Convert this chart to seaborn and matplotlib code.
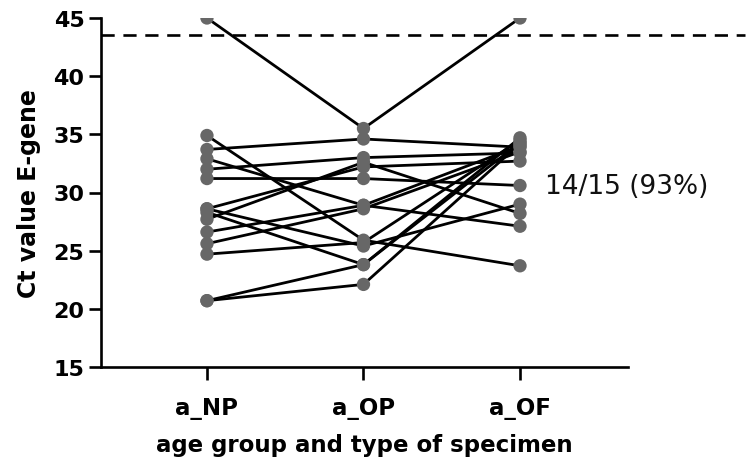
import matplotlib
matplotlib.use("Agg")
import matplotlib.pyplot as plt
import seaborn as sns
import pandas as pd

specimens = ["a_NP", "a_OP", "a_OF"]
ct_np = [45.0, 34.9, 33.7, 32.0, 32.9, 31.2, 28.6, 28.3, 28.6, 27.7, 26.6, 25.6, 24.7, 20.7, 20.7]
ct_op = [35.5, 25.9, 34.6, 33.0, 28.9, 31.2, 32.2, 23.8, 25.4, 32.6, 28.9, 28.6, 25.7, 23.8, 22.1]
ct_of = [45.0, 23.7, 33.9, 33.4, 27.1, 30.6, 32.7, 34.3, 29.0, 28.2, 34.0, 33.5, 34.5, 34.7, 34.2]
cutoff = 43.5
annotation = "14/15 (93%)"
y_ticks = [15, 20, 25, 30, 35, 40, 45]

rows = []
for i, vals in enumerate(zip(ct_np, ct_op, ct_of)):
    for j, v in enumerate(vals):
        rows.append({"subject": i, "specimen": specimens[j], "pos": j, "ct": v})
df = pd.DataFrame(rows)

sns.set_style("ticks")
plt.rcParams["font.family"] = ["DejaVu Sans"]
plt.rcParams["text.color"] = "black"
plt.rcParams["axes.labelcolor"] = "black"
plt.rcParams["xtick.color"] = "black"
plt.rcParams["ytick.color"] = "black"

fig = plt.figure(figsize=(7.46, 4.64), dpi=100)
ax = fig.add_axes([101 / 746, 1 - 368 / 464, (628 - 101) / 746, (368 - 19) / 464])

sns.lineplot(data=df, x="pos", y="ct", units="subject", estimator=None, sort=False,
             color="black", linewidth=2.0, ax=ax, legend=False, zorder=2)
sns.scatterplot(data=df, x="pos", y="ct", color="#676767", s=92, edgecolor="none",
                ax=ax, legend=False, zorder=3)
for artist in list(ax.collections) + list(ax.lines):
    artist.set_clip_on(True)
    artist.set_clip_path(ax.patch)

ax.set_xlim(-0.677, 2.69)
ax.set_ylim(15, 45)
x0, x1 = -0.677, 3.44
ax.plot([x0, x1], [cutoff, cutoff], color="black", linewidth=1.9,
        dashes=(5, 3.3), clip_on=False, zorder=1)

ax.text(2.16, 30.6, annotation, fontsize=19, va="center", ha="left",
        color="#111111", clip_on=False)

ax.set_xticks(range(len(specimens)))
ax.set_xticklabels(specimens, fontsize=16.5, fontweight="bold")
ax.set_yticks(y_ticks)
ax.set_yticklabels([str(t) for t in y_ticks], fontsize=16, fontweight="bold")
ax.set_xlabel("age group and type of specimen", fontsize=16.5, fontweight="bold", labelpad=10)
ax.set_ylabel("Ct value E-gene", fontsize=17, fontweight="bold", labelpad=9)

for side in ["top", "right"]:
    ax.spines[side].set_visible(False)
for side in ["left", "bottom"]:
    ax.spines[side].set_linewidth(1.9)
    ax.spines[side].set_color("black")
ax.tick_params(axis="y", width=1.9, length=9, color="black", pad=3)
ax.tick_params(axis="x", width=1.9, length=9, color="black", pad=12)

fig.savefig("out.png", dpi=100)
